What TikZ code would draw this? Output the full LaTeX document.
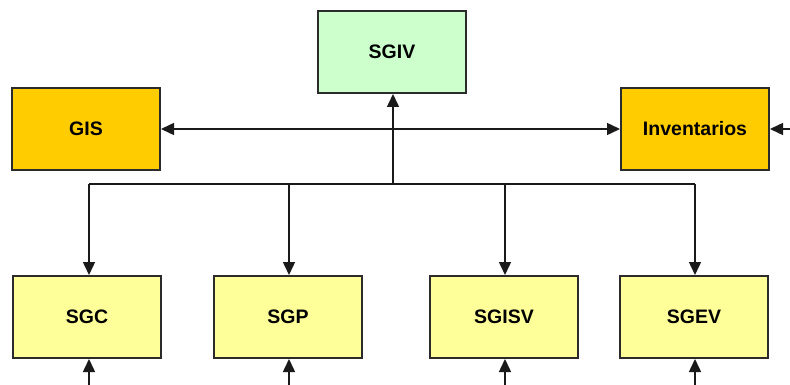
\documentclass[tikz,border=0pt]{standalone}
\usepackage{fontspec}
\setmainfont{Liberation Sans}
\usetikzlibrary{arrows.meta}
\definecolor{lineclr}{HTML}{1A1A1A}
\definecolor{boxedge}{HTML}{2B2B2B}
\definecolor{topfill}{HTML}{CCFFCC}
\definecolor{sidefill}{HTML}{FFCC00}
\definecolor{subfill}{HTML}{FFFF99}
\begin{document}
\begin{tikzpicture}[x=1pt,y=-1pt,
  sysbox/.style={draw=boxedge,line width=2pt,minimum width=148pt,minimum height=82pt,
    inner sep=0pt,font=\fontsize{19.5}{22}\selectfont\bfseries},
  link/.style={draw=lineclr,line width=1.5pt},
  tip/.style={-{Triangle[length=13pt,width=12pt]}}
]
\useasboundingbox (0,0) rectangle (790,385);
% boxes
\node[sysbox,fill=topfill]  (sgiv)  at (392,52)   {SGIV};
\node[sysbox,fill=sidefill] (gis)   at (86,129)   {GIS};
\node[sysbox,fill=sidefill] (inv)   at (695,129)  {Inventarios};
\node[sysbox,fill=subfill]  (sgc)   at (87,317)   {SGC};
\node[sysbox,fill=subfill]  (sgp)   at (288,317)  {SGP};
\node[sysbox,fill=subfill]  (sgisv) at (504,317)  {SGISV};
\node[sysbox,fill=subfill]  (sgev)  at (694,317)  {SGEV};
% junction points of the distribution bus
\coordinate (hub) at (393,184);
\coordinate (busL) at (89,184);
\coordinate (busR) at (695,184);
% free ends at the picture border
\coordinate (invin) at (790,129);
\coordinate (sgcin) at (89,385);
\coordinate (sgpin) at (289,385);
\coordinate (sgisvin) at (505,385);
\coordinate (sgevin) at (695,385);
% GIS <-> Inventarios
\draw[link,{Triangle[length=13pt,width=12pt]}-{Triangle[length=13pt,width=12pt]}] (gis.east) -- (inv.west);
\draw[link,tip] (invin) -- (inv.east);
% bus up to SGIV
\draw[link,tip] (hub) -- (hub |- sgiv.south);
\draw[link] (busL) -- (busR);
% bus down to the subsystems
\draw[link,tip] (busL) -- (busL |- sgc.north);
\draw[link,tip] (289,184) -- (sgp.north -| 289,0);
\draw[link,tip] (505,184) -- (sgisv.north -| 505,0);
\draw[link,tip] (busR) -- (busR |- sgev.north);
% inputs from below
\draw[link,tip] (sgcin) -- (sgcin |- sgc.south);
\draw[link,tip] (sgpin) -- (sgpin |- sgp.south);
\draw[link,tip] (sgisvin) -- (sgisvin |- sgisv.south);
\draw[link,tip] (sgevin) -- (sgevin |- sgev.south);
\end{tikzpicture}
\end{document}
